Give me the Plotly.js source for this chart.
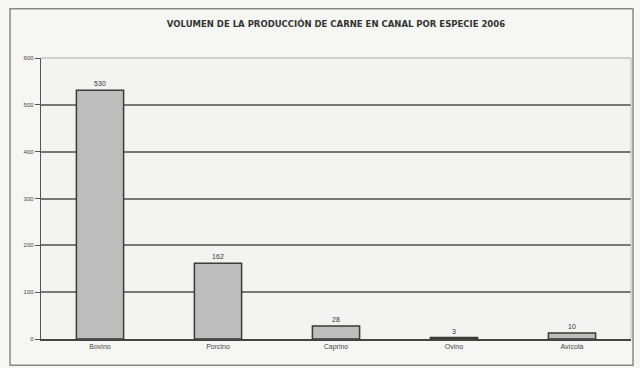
<!DOCTYPE html>
<html><head><meta charset="utf-8">
<script src="https://cdn.plot.ly/plotly-3.0.1.min.js"></script>
<style>html,body{margin:0;padding:0;background:#f6f6f4;}#c{width:640px;height:368px;}</style>
</head><body><div id="c"></div>
<script>
const categories = ["Bovino", "Porcino", "Caprino", "Ovino", "Avícola"];
const values = [531, 162, 28, 3, 13];
const labels = ["530", "162", "28", "3", "10"];
const yTicks = [0, 100, 200, 300, 400, 500, 600];
const titleText = "VOLUMEN DE LA PRODUCCIÓN DE CARNE EN CANAL POR ESPECIE 2006";

const trace = {
  type: "bar", x: categories, y: values,
  text: labels, textposition: "outside", cliponaxis: false,
  textfont: {family: "Arial, Liberation Sans, sans-serif", size: 7, color: "#333"},
  marker: {color: "#bdbdbd", line: {color: "#3a3a3a", width: 1.5}},
  hoverinfo: "none"
};
const layout = {
  width: 640, height: 368,
  paper_bgcolor: "#f6f6f4", plot_bgcolor: "#f3f3f1",
  margin: {l: 41, r: 9, t: 58, b: 29},
  bargap: 0.6,
  showlegend: false,
  title: {text: "<b>" + titleText + "</b>", x: 0.5, xref: "paper", y: 0.935, yanchor: "middle",
    font: {family: "DejaVu Sans, sans-serif", size: 8.5, color: "#333"}},
  xaxis: {showgrid: false, showline: true, linecolor: "#444", linewidth: 1.5,
    tickfont: {family: "Arial, Liberation Sans, sans-serif", size: 7, color: "#444"}, ticks: ""},
  yaxis: {range: [0, 600], tickvals: yTicks, ticktext: yTicks.map(String),
    showgrid: true, gridcolor: "#777", gridwidth: 2, zeroline: false,
    showline: true, linecolor: "#555", linewidth: 1.2, ticks: "outside", ticklen: 5, tickcolor: "#555",
    mirror: false,
    tickfont: {family: "Arial, Liberation Sans, sans-serif", size: 6, color: "#444"}},
  shapes: [
    {type: "rect", xref: "paper", yref: "paper", x0: -0.0525, x1: 1.0034, y0: -0.093, y1: 1.175,
      line: {color: "#888", width: 1.5}, fillcolor: "rgba(0,0,0,0)", layer: "below"},
    {type: "line", xref: "paper", yref: "paper", x0: 0, x1: 1, y0: 1, y1: 1, line: {color: "#aaa", width: 1}},
    {type: "line", xref: "paper", yref: "paper", x0: 1, x1: 1, y0: 0, y1: 1, line: {color: "#bbb", width: 1}}
  ]
};
Plotly.newPlot("c", [trace], layout, {displayModeBar: false, staticPlot: true});
</script></body></html>
